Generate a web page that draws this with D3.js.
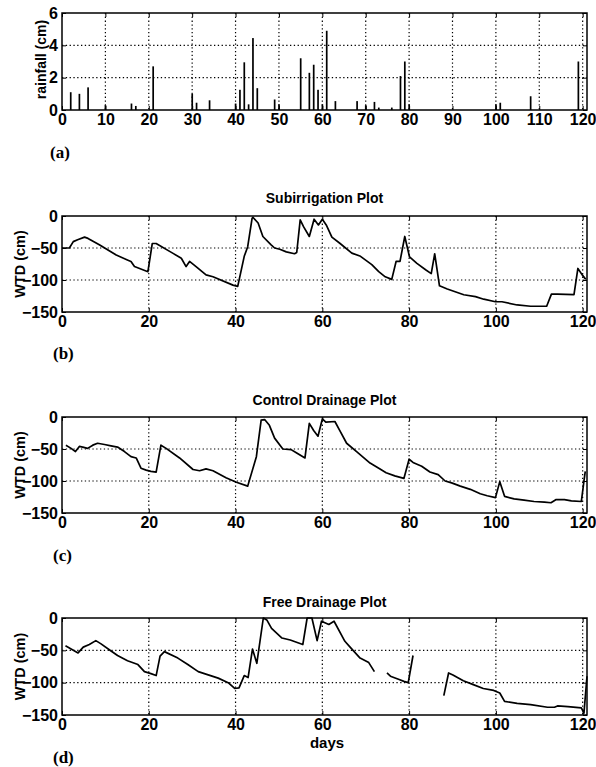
<!DOCTYPE html>
<html><head><meta charset="utf-8">
<script src="https://cdn.jsdelivr.net/npm/d3@7"></script>
<style>
body{margin:0;background:#fff;}
svg text{fill:#000;}
</style></head>
<body><svg id="c" width="596" height="767"></svg>
<script>
// ---- data ----
const rainDays   = [2,4,6,10,16,17,21,30,31,34,40,41,42,43,44,45,49,50,55,57,58,59,60,61,63,68,70,72,73,76,78,79,80,100,101,108,119];
const rainValues = [1.1,1.0,1.4,0.3,0.4,0.25,2.7,1.0,0.45,0.6,0.4,1.25,2.95,0.35,4.45,1.35,0.65,0.35,3.2,2.3,2.8,1.25,0.35,4.9,0.55,0.55,0.3,0.5,0.15,0.15,2.1,3.0,0.35,0.35,0.45,0.85,3.0];

const subDays = [0,1.7,2.6,3.6,5.2,6,8.6,12.5,15.2,15.9,16.7,19.8,20.8,21.7,25.5,27.5,28.6,29.4,30.9,33.2,34.8,39.4,40.5,42,42.8,43.8,44,45.2,46.3,48.2,49,50.2,51.7,53.6,54.1,54.9,55.7,57,58.1,59.1,60,60.9,62.2,64.1,66.8,68.8,71.4,73,74.5,76,77,77.9,79,80.1,81.8,83.8,85.1,85.9,87,88.8,92.6,95.3,97.2,99.9,101.4,104.9,108,111.7,112.8,114.2,118,118.9,119.9,120.7];
const subWTD  = [-50,-50,-40,-37,-33,-35,-45,-61,-69,-71,-79,-87,-43,-43,-58,-66,-79,-71,-79,-92,-95,-108,-110,-63,-48,-4,-2,-11,-32,-45,-50,-52,-56,-59,-57,-6,-17,-32,-5,-14,-5,-14,-33,-43,-58,-63,-76,-87,-95,-99,-71,-71,-32,-64,-74,-84,-90,-59,-109,-114,-123,-126,-130,-134,-134,-139,-141,-141,-122,-122,-123,-82,-92,-99];

const ctrlDays = [0.9,2.1,3.1,4,4.8,5.9,7.1,8.2,9.8,11.3,12.8,14.4,15.9,17.1,18.2,19.4,20.5,21.7,22.8,24,27.1,30.2,31.7,33.2,34.8,37.8,40.2,42.8,44.8,45.9,46.7,47.8,49,50.9,52.8,54,56,57,58,59,60,60.8,62.9,64,65.6,67.9,71,73.2,74.7,76.7,78.8,80,80.9,82.9,84.8,86.7,88.3,89.8,91.8,94.1,96.4,98,99.9,100.9,102,104.2,106.5,108.8,111.2,112.7,113.9,115.8,117.4,119.7,120.3,120.6];
const ctrlWTD  = [-44,-49,-54,-46,-47,-49,-44,-41,-43,-45,-47,-54,-62,-64,-80,-83,-85,-86,-44,-49,-64,-82,-84,-81,-84,-95,-102,-108,-62,-5,-4,-13,-33,-50,-51,-56,-64,-10,-21,-30,-3,-8,-7,-21,-41,-54,-72,-81,-87,-92,-96,-66,-71,-77,-86,-90,-100,-103,-108,-113,-120,-123,-126,-101,-124,-128,-130,-132,-133,-134,-129,-129,-131,-132,-100,-85];

const freeDays = [0.8,2.4,3.7,4.9,6.3,7.8,9,10.9,12.8,15.1,17.5,19,20.5,21.7,22.6,23.6,26.7,29,31.4,33.7,36,38.3,39.8,40.8,42,42.9,43.9,44.9,46.4,47.2,48.3,50.7,52.6,55.5,56.5,57.6,58.8,59.8,61.5,62.7,65.2,66.4,68.7,70.7,72,73.5,74.9,75.7,77.7,78.8,79.8,80.9,84.5,88,89.1,90.1,92.5,94.8,97.1,99.5,100.9,102,104.9,108,111.9,113.5,114.2,116.6,119.7,120.3,121];
const freeWTD  = [-43,-49,-54,-45,-41,-35,-40,-49,-58,-66,-72,-83,-86,-89,-59,-52,-62,-72,-83,-88,-93,-100,-109,-108,-89,-92,-48,-70,0,-3,-16,-31,-34,-41,0,0,-35,-5,-10,-5,-36,-45,-62,-69,-83,null,-85,-90,-95,-98,-100,-58,null,-120,-85,-88,-97,-103,-109,-112,-116,-129,-132,-134,-138,-138,-136,-137,-139,-147,-90];

const xTicksRain = [0,10,20,30,40,50,60,70,80,90,100,110,120];
const yTicksRain = [0,2,4,6];
const xTicksWTD  = [0,20,40,60,80,100,120];
const yTicksWTD  = [-150,-100,-50,0];

const panelTitles = ["Subirrigation Plot","Control Drainage Plot","Free Drainage Plot"];
const panelLetters = ["(a)","(b)","(c)","(d)"];

// ---- drawing ----
const svg = d3.select("#c");
const L = 62, R = 587;
const x = d3.scaleLinear().domain([0,121]).range([L,R]);
const tickFont = "bold 16px 'Liberation Sans', Arial, sans-serif";
const letterFont = "bold 17px 'Liberation Serif', 'Times New Roman', serif";

function frame(g, y, top, bottom, xTicks, yTicks){
  g.selectAll(".vg").data(xTicks.filter(d=>d>0)).join("line")
    .attr("x1",d=>x(d)).attr("x2",d=>x(d)).attr("y1",top).attr("y2",bottom)
    .attr("stroke","#000").attr("stroke-width",1.2).attr("stroke-dasharray","1.3,2.5");
  g.selectAll(".hg").data(yTicks.filter(d=>y(d)>top+1 && y(d)<bottom-1)).join("line")
    .attr("x1",L).attr("x2",R).attr("y1",d=>y(d)).attr("y2",d=>y(d))
    .attr("stroke","#000").attr("stroke-width",1.2).attr("stroke-dasharray","1.3,2.5");
  const ax = g.append("g").attr("transform",`translate(0,${bottom})`)
    .call(d3.axisBottom(x).tickValues(xTicks).tickSizeInner(-4).tickSizeOuter(0).tickPadding(4).tickFormat(d3.format("d")));
  const ay = g.append("g").attr("transform",`translate(${L},0)`)
    .call(d3.axisLeft(y).tickValues(yTicks).tickSizeInner(-4).tickSizeOuter(0).tickPadding(4).tickFormat(d3.format("d")));
  const axr = g.append("g").attr("transform",`translate(${R},0)`)
    .call(d3.axisRight(y).tickValues(yTicks).tickSizeInner(-4).tickSizeOuter(0).tickFormat(""));
  const axt = g.append("g").attr("transform",`translate(0,${top})`)
    .call(d3.axisTop(x).tickValues(xTicks).tickSizeInner(-4).tickSizeOuter(0).tickFormat(""));
  [ax,ay,axr,axt].forEach(a=>{a.select(".domain").remove(); a.selectAll("line").attr("stroke","#000").attr("stroke-width",1);});
  [ax,ay].forEach(a=>a.selectAll("text").style("font",tickFont).attr("fill","#000"));
  g.append("rect").attr("x",L).attr("y",top).attr("width",R-L).attr("height",bottom-top)
    .attr("fill","none").attr("stroke","#000").attr("stroke-width",1.5);
}

// panel (a)
{
  const top=13,bottom=110;
  const y = d3.scaleLinear().domain([0,6]).range([bottom,top]);
  const g = svg.append("g");
  frame(g,y,top,bottom,xTicksRain,yTicksRain);
  const bars = rainDays.map((d,i)=>({d, v: rainValues[i]}));
  g.selectAll(".bar").data(bars).join("rect")
    .attr("x",b=>x(b.d)-0.8).attr("width",1.7)
    .attr("y",b=>y(b.v)).attr("height",b=>y(0)-y(b.v)).attr("fill","#000");
  svg.append("text").attr("transform",`translate(46,${(top+bottom)/2 - 2}) rotate(-90)`)
    .attr("text-anchor","middle").style("font","bold 14px 'Liberation Sans', Arial, sans-serif").text("rainfall (cm)");
  svg.append("text").attr("x",50).attr("y",158).style("font",letterFont).text(panelLetters[0]);
}

const panels = [
  {top:216,bottom:312,days:subDays,vals:subWTD,title:panelTitles[0],titleY:203,letterY:359},
  {top:417,bottom:513,days:ctrlDays,vals:ctrlWTD,title:panelTitles[1],titleY:405,letterY:561},
  {top:618,bottom:715,days:freeDays,vals:freeWTD,title:panelTitles[2],titleY:607,letterY:763},
];
panels.forEach((p,i)=>{
  const y = d3.scaleLinear().domain([-150,0]).range([p.bottom,p.top]);
  const g = svg.append("g");
  frame(g,y,p.top,p.bottom,xTicksWTD,yTicksWTD);
  const pts = p.days.map((d,k)=>({d, v:p.vals[k]}));
  const line = d3.line().defined(q=>q.v!==null).x(q=>x(q.d)).y(q=>y(q.v));
  g.append("path").attr("d",line(pts)).attr("fill","none").attr("stroke","#000")
    .attr("stroke-width",1.7).attr("stroke-linejoin","round");
  svg.append("text").attr("x",(L+R)/2).attr("y",p.titleY).attr("text-anchor","middle")
    .style("font","bold 14px 'Liberation Sans', Arial, sans-serif").text(p.title);
  svg.append("text").attr("transform",`translate(25,${(p.top+p.bottom)/2}) rotate(-90)`)
    .attr("text-anchor","middle").style("font","bold 14.5px 'Liberation Sans', Arial, sans-serif").text("WTD (cm)");
  svg.append("text").attr("x",53).attr("y",p.letterY).style("font",letterFont).text(panelLetters[i+1]);
});
svg.append("text").attr("x",327).attr("y",748).attr("text-anchor","middle")
  .style("font","bold 15px 'Liberation Sans', Arial, sans-serif").text("days");
</script>
</body></html>
